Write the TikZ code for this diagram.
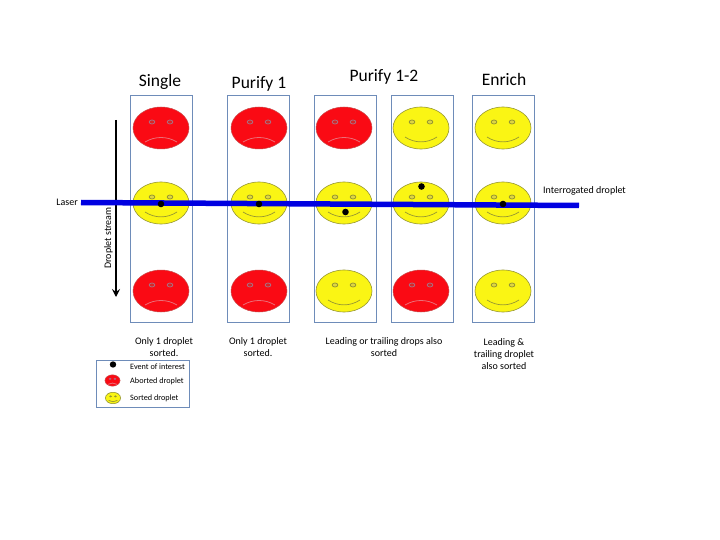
\documentclass[tikz,border=0pt]{standalone}
\usepackage{fontspec}
\setmainfont{Carlito}
\usetikzlibrary{arrows.meta}
\definecolor{boxblue}{RGB}{110,140,185}
\definecolor{laserblue}{RGB}{0,0,225}
\definecolor{dropred}{RGB}{250,10,20}
\definecolor{dropyellow}{RGB}{250,245,20}
\definecolor{dropedge}{RGB}{150,150,50}
\definecolor{sadline}{RGB}{235,110,120}
\definecolor{sadeye}{RGB}{170,110,130}
\tikzset{
  lane/.style={draw=boxblue,line width=0.9pt,fill=white},
  title/.style={font=\fontsize{17.5}{20}\selectfont,inner sep=0pt},
  caption/.style={font=\fontsize{10}{12}\selectfont,align=center,inner sep=0pt},
  small/.style={font=\fontsize{10}{12}\selectfont,inner sep=0pt},
  tiny/.style={font=\fontsize{8.2}{10}\selectfont,inner sep=0pt,anchor=west},
  event/.style={fill=black,draw=none},
  pics/sad/.style={code={
    \path[fill=dropred,draw=red!70!black!70,line width=0.5pt] (0,0) ellipse (28 and 21);
    \path[draw=sadeye,fill=red!70!gray,line width=0.8pt] (-9,-6) ellipse (2.8 and 2) (9,-6) ellipse (2.8 and 2);
    \path[draw=sadline,line width=0.8pt] (-16,14) .. controls (-6,8) and (6,8) .. (16,14);
  }},
  pics/happy/.style={code={
    \path[fill=dropyellow,draw=dropedge,line width=0.6pt] (0,0) ellipse (28 and 21);
    \path[draw=dropedge,fill=yellow!70!gray,line width=0.8pt] (-9,-6) ellipse (2.8 and 2) (9,-6) ellipse (2.8 and 2);
    \path[draw=dropedge,line width=0.7pt] (-16,9) .. controls (-6,15.5) and (6,15.5) .. (16,9);
  }}
}
\begin{document}
\begin{tikzpicture}[x=1pt,y=-1pt]
\useasboundingbox (0,0) rectangle (720,540);
% lanes
\foreach \name/\xa/\xb in {single/130/192,purify/227/289,bothA/314/376,bothB/391/453,enrich/472/534}
  \draw[lane] (\xa,95) rectangle (\xb,322) coordinate (\name);
% droplets
\foreach \xc/\ya/\yb/\yc/\kinda/\kindc in {161/128/203/291/sad/sad,259/128/203/291/sad/sad,344/128/203/291/sad/happy,421/128/203/291/happy/sad,503/128/203/291/happy/happy}{
  \pic at (\xc,\ya) {\kinda};
  \pic at (\xc,\yb) {happy};
  \pic at (\xc,\yc) {\kindc};
}
% stream and laser
\coordinate (streamTop) at (116,120);
\coordinate (streamEnd) at (116,297);
\coordinate (laserA) at (81,202.5);
\coordinate (laserB) at (579,205.5);
\draw[-{Stealth[length=8pt,width=8pt,inset=3pt]},line width=1.8pt] (streamTop) -- (streamEnd);
\draw[laserblue,line width=5.5pt] (laserA) -- (laserB);
% events of interest
\foreach \xc/\yc in {161/204,259/204,345.5/212,421.5/186.5,503/204}
  \fill[event] (\xc,\yc) circle (3.3);
% titles
\node[title] (tSingle) at (160,82) {Single};
\node[title] (tPurify) at (259,84) {Purify 1};
\node[title] (tBoth) at (384,77) {Purify 1-2};
\node[title] (tEnrich) at (504,79) {Enrich};
% labels
\node[small,anchor=east] (lLaser) at (78,202) {Laser};
\node[small,anchor=west] (lDroplet) at (543,191) {Interrogated droplet};
\node[small,rotate=90] (lStream) at (108.5,238) {Droplet stream};
\node[caption] (cSingle) at (164,347.5) {Only 1 droplet\\sorted.};
\node[caption] (cPurify) at (258,347) {Only 1 droplet\\sorted.};
\node[caption] (cBoth) at (384,347) {Leading or trailing drops also\\sorted};
\node[caption] (cEnrich) at (504,354) {Leading \&\\trailing droplet\\also sorted};
% legend
\draw[lane,line width=1pt] (96,360) rectangle (189,407);
\fill[event] (113,364.5) circle (3.2);
\pic[scale=0.27] at (112.5,380.5) {sad};
\pic[scale=0.27] at (113,398) {happy};
\node[tiny] (lEvent) at (130,367) {Event of interest};
\node[tiny] (lAbort) at (130,381) {Aborted droplet};
\node[tiny] (lSorted) at (130,398.5) {Sorted droplet};
\end{tikzpicture}
\end{document}
